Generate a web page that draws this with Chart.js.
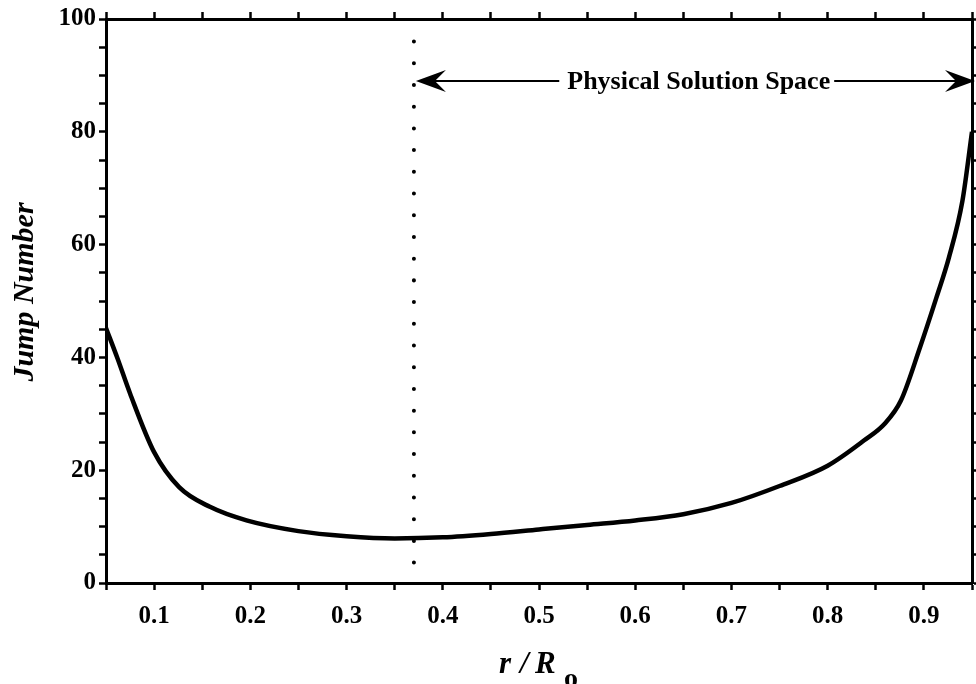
<!DOCTYPE html>
<html>
<head>
<meta charset="utf-8">
<script src="https://cdn.jsdelivr.net/npm/chart.js@4/dist/chart.umd.min.js"></script>
<style>
  html, body { margin: 0; padding: 0; background: #fff; }
  #wrap { width: 976px; height: 684px; }
</style>
</head>
<body>
<div id="wrap"><canvas id="c" width="976" height="684"></canvas></div>
<script>
// Radius ratio r/Ro and the jump number computed at each radius
const rRatio = [0.05, 0.062, 0.075, 0.1, 0.126, 0.158, 0.196, 0.25, 0.3, 0.35, 0.4, 0.45, 0.5, 0.55, 0.6, 0.65, 0.7, 0.75, 0.8, 0.838, 0.859, 0.876, 0.896, 0.913, 0.926, 0.94, 0.95];
const jumpNumber = [45.2, 39.8, 33.6, 23.2, 17.0, 13.5, 11.1, 9.2, 8.3, 7.9, 8.1, 8.7, 9.5, 10.3, 11.1, 12.2, 14.2, 17.2, 20.8, 25.3, 28.2, 32.3, 41.8, 50.6, 57.7, 67.7, 80];

// Axis ranges and tick values
const xRange = [0.05, 0.95];
const yRange = [0, 100];
const xTicks = [0.05, 0.1, 0.15, 0.2, 0.25, 0.3, 0.35, 0.4, 0.45, 0.5, 0.55, 0.6, 0.65, 0.7, 0.75, 0.8, 0.85, 0.9, 0.95];
const yTicks = [0, 5, 10, 15, 20, 25, 30, 35, 40, 45, 50, 55, 60, 65, 70, 75, 80, 85, 90, 95, 100];
const xLabelled = [0.1, 0.2, 0.3, 0.4, 0.5, 0.6, 0.7, 0.8, 0.9];
const yLabelled = [0, 20, 40, 60, 80, 100];

// Lower bound of the physical solution space and its annotation
const physicalLimit = [0.37];
const dottedSpan = [2.0, 96];
const spaceArrow = { from: 0.37, to: 0.95, level: 89, labelAt: 0.666 };
const spaceText = 'Physical Solution Space';

const serif = "'Liberation Serif', 'Times New Roman', 'DejaVu Serif', serif";
const ink = '#000';

function near(v, list) { return list.some(t => Math.abs(t - v) < 1e-6); }

function axisBase(extra) {
  return Object.assign({
    type: 'linear',
    grid: { drawOnChartArea: false, drawTicks: true, tickLength: 7, tickWidth: 2.5, tickColor: ink },
    border: { display: true, color: ink, width: 3 }
  }, extra);
}

// fixed box sizes keep the plot frame in place; no extra side padding from labels
function fixHeight(h) {
  return s => { s.height = h; s.paddingLeft = 0; s.paddingRight = 0; };
}
function fixWidth(w) {
  return s => { s.width = w; s.paddingTop = 0; s.paddingBottom = 0; };
}

const arrowPlugin = {
  id: 'spaceArrow',
  afterDatasetsDraw(chart) {
    const { ctx, scales } = chart;
    const xs = scales.x, ys = scales.y;
    const x0 = xs.getPixelForValue(spaceArrow.from);
    const x1 = xs.getPixelForValue(spaceArrow.to);
    const y = ys.getPixelForValue(spaceArrow.level);
    const xc = xs.getPixelForValue(spaceArrow.labelAt);
    ctx.save();
    ctx.font = 'bold 26px ' + serif;
    const tw = ctx.measureText(spaceText).width;
    ctx.strokeStyle = ink;
    ctx.fillStyle = ink;
    ctx.lineWidth = 2;
    ctx.beginPath();
    ctx.moveTo(x0 + 14, y); ctx.lineTo(xc - tw / 2 - 8, y);
    ctx.moveTo(xc + tw / 2 + 4, y); ctx.lineTo(x1 - 14, y);
    ctx.stroke();
    // barbed heads at both ends
    const head = (tip, dir) => {
      ctx.beginPath();
      ctx.moveTo(tip, y);
      ctx.lineTo(tip + dir * 30, y - 11);
      ctx.lineTo(tip + dir * 19, y);
      ctx.lineTo(tip + dir * 30, y + 11);
      ctx.closePath();
      ctx.fill();
    };
    head(x0 + 2, 1);
    head(x1 + 3, -1);
    ctx.textAlign = 'center';
    ctx.textBaseline = 'middle';
    ctx.fillText(spaceText, xc, y + 1);
    ctx.restore();
  }
};

const titlePlugin = {
  id: 'axisTitles',
  afterDraw(chart) {
    const { ctx } = chart;
    ctx.save();
    ctx.fillStyle = ink;
    // vertical axis title
    ctx.translate(25, 292);
    ctx.rotate(-Math.PI / 2);
    ctx.font = 'italic bold 30px ' + serif;
    ctx.textAlign = 'center';
    ctx.textBaseline = 'middle';
    ctx.fillText('Jump Number', 0, 0);
    ctx.restore();
    // horizontal axis title: r / R with subscript o
    ctx.save();
    ctx.fillStyle = ink;
    ctx.textAlign = 'left';
    ctx.textBaseline = 'alphabetic';
    ctx.font = 'italic bold 31px ' + serif;
    ctx.fillText('r', 499, 673);
    ctx.fillText('/', 520, 673);
    ctx.fillText('R', 535, 673);
    ctx.font = 'bold 28px ' + serif;
    ctx.fillText('o', 564, 687);
    ctx.restore();
  }
};

new Chart(document.getElementById('c'), {
  type: 'line',
  data: {
    datasets: [
      {
        data: rRatio.map((x, i) => ({ x, y: jumpNumber[i] })),
        borderColor: ink,
        borderWidth: 4.5,
        pointRadius: 0,
        fill: false,
        cubicInterpolationMode: 'monotone',
        xAxisID: 'x',
        yAxisID: 'y'
      },
      {
        data: dottedSpan.map(v => ({ x: physicalLimit[0], y: v })).reverse(),
        borderColor: ink,
        borderWidth: 4,
        borderDash: [0.01, 21.7],
        borderCapStyle: 'round',
        pointRadius: 0,
        fill: false,
        xAxisID: 'x',
        yAxisID: 'y'
      }
    ]
  },
  options: {
    responsive: false,
    devicePixelRatio: 1,
    animation: false,
    layout: { padding: 0 },
    plugins: { legend: { display: false }, tooltip: { enabled: false }, title: { display: false } },
    scales: {
      x: axisBase({
        position: 'bottom',
        min: xRange[0], max: xRange[1],
        afterBuildTicks: s => { s.ticks = xTicks.map(v => ({ value: v })); },
        afterFit: fixHeight(101),
        ticks: {
          color: ink, padding: 12, maxRotation: 0, autoSkip: false,
          font: { family: serif, size: 25, weight: 'bold' },
          callback: v => near(v, xLabelled) ? v.toFixed(1) : ''
        }
      }),
      x2: axisBase({
        position: 'top',
        min: xRange[0], max: xRange[1],
        afterBuildTicks: s => { s.ticks = xTicks.map(v => ({ value: v })); },
        afterFit: fixHeight(19),
        ticks: { display: false }
      }),
      y: axisBase({
        position: 'left',
        min: yRange[0], max: yRange[1],
        afterBuildTicks: s => { s.ticks = yTicks.map(v => ({ value: v })); },
        afterFit: fixWidth(106),
        ticks: {
          color: ink, padding: 3, autoSkip: false,
          font: { family: serif, size: 25, weight: 'bold' },
          callback: v => near(v, yLabelled) ? String(v) : ''
        }
      }),
      y2: axisBase({
        position: 'right',
        min: yRange[0], max: yRange[1],
        afterBuildTicks: s => { s.ticks = yTicks.map(v => ({ value: v })); },
        afterFit: fixWidth(4),
        ticks: { display: false }
      })
    }
  },
  plugins: [arrowPlugin, titlePlugin]
});
</script>
</body>
</html>
